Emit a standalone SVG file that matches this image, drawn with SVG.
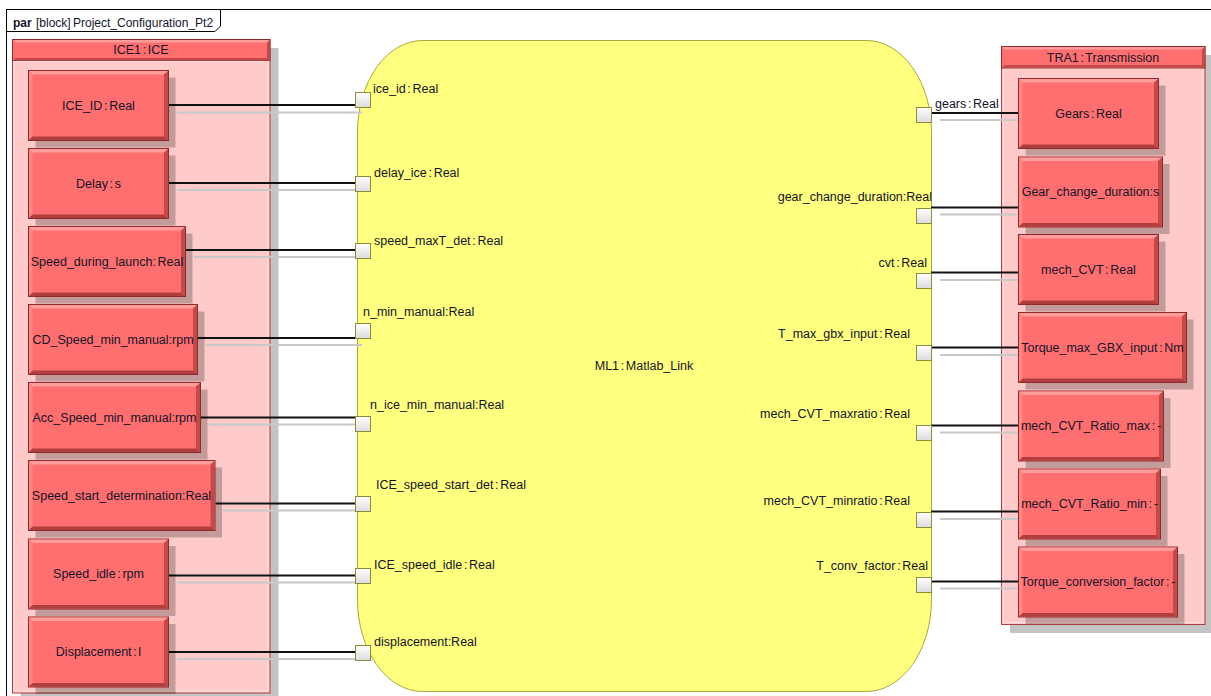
<svg xmlns="http://www.w3.org/2000/svg" width="1211" height="696" viewBox="0 0 1211 696">
<defs>
<linearGradient id="pg" x1="0" y1="0" x2="0" y2="1"><stop offset="0" stop-color="#FFFFFF"/><stop offset="1" stop-color="#DCDCDC"/></linearGradient>
<style>
text{font-family:"Liberation Sans",Arial,sans-serif;font-size:12.5px;fill:#14142a;word-spacing:-1.8px}
.c{text-anchor:middle}
.e{text-anchor:end}
.box{fill:#FF6F6F;stroke:#8E2A2A;stroke-width:1}
.hl{fill:#FF9C9C}
.hl2{fill:#FF8585}
.dk{fill:#C44A4A}
.dk2{fill:#B03E3E}
.sh{fill:#000;opacity:0.23}
.cont{fill:#FFCACA;stroke:#B23A3A;stroke-width:1}
.hdr{fill:#FF6F6F;stroke:#8E2A2A;stroke-width:1}
.port{fill:url(#pg);stroke:#8C8C38;stroke-width:1}
.wire{stroke:#111;stroke-width:2;fill:none}
.ghost{stroke:#C8C8C8;stroke-width:2;fill:none}
</style>
</defs>
<rect width="1211" height="696" fill="#fff"/>
<g id="frame">
<rect x="6.5" y="9.5" width="1215" height="700" fill="none" stroke="#000"/>
<path d="M6.5,31.5 H215 L220.5,26 V9.5" fill="none" stroke="#000"/>
<text x="13" y="27" style="font-size:12px;font-weight:bold">par</text>
<text x="36" y="27" style="font-size:12px">[block]</text>
<text x="73" y="27" style="font-size:12px">Project_Configuration_Pt2</text>
</g>
<g id="ML1">
<rect x="357.5" y="40.5" width="574" height="651" rx="65" ry="92" fill="#FFFF80" stroke="#A8A83C"/>
<text class="c" x="644" y="370">ML1 : Matlab_Link</text>
</g>
<g id="ICE1">
<rect class="sh" x="21" y="48" width="257.5" height="653.5"/>
<rect class="cont" x="12.5" y="39.5" width="257.5" height="653.5"/>
<rect x="14.5" y="61.5" width="253.5" height="629.5" fill="none" stroke="#FFE0E0" stroke-width="1"/>
<rect class="hdr" x="12.5" y="39.5" width="257.5" height="21"/>
<path d="M13,40 H269.5 L267,42.5 H15.5 Z" class="hl"/>
<path d="M269.5,40 V60.5 H13 L15.5,58 H267 V42.5 Z" class="dk"/>
<text class="c" x="141" y="54">ICE1 : ICE</text>
</g>
<g id="TRA1">
<rect class="sh" x="1010" y="55" width="203.5" height="578"/>
<rect class="cont" x="1001.5" y="46.5" width="203.5" height="578"/>
<rect x="1003.5" y="68.5" width="199.5" height="554" fill="none" stroke="#FFE0E0" stroke-width="1"/>
<rect class="hdr" x="1001.5" y="46.5" width="203.5" height="21.5"/>
<path d="M1002,47 H1204.5 L1202,49.5 H1004.5 Z" class="hl"/>
<path d="M1204.5,47 V67.5 H1002 L1004.5,65 H1202 V49.5 Z" class="dk"/>
<text class="c" x="1103" y="61.5">TRA1 : Transmission</text>
</g>
<g id="connectors">
<line class="ghost" x1="177" y1="112.5" x2="362" y2="112.5"/>
<line class="wire" x1="168.5" y1="105" x2="356" y2="105"/>
<line class="ghost" x1="177" y1="190" x2="362" y2="190"/>
<line class="wire" x1="168.5" y1="183" x2="356" y2="183"/>
<line class="ghost" x1="194" y1="257" x2="362" y2="257"/>
<line class="wire" x1="186" y1="250" x2="356" y2="250"/>
<line class="ghost" x1="206" y1="345" x2="362" y2="345"/>
<line class="wire" x1="198" y1="338" x2="356" y2="338"/>
<line class="ghost" x1="209" y1="424.5" x2="362" y2="424.5"/>
<line class="wire" x1="201" y1="417.5" x2="356" y2="417.5"/>
<line class="ghost" x1="223" y1="510.5" x2="362" y2="510.5"/>
<line class="wire" x1="215.5" y1="503.5" x2="356" y2="503.5"/>
<line class="ghost" x1="177" y1="582.5" x2="362" y2="582.5"/>
<line class="wire" x1="168.5" y1="575.5" x2="356" y2="575.5"/>
<line class="ghost" x1="177" y1="659" x2="362" y2="659"/>
<line class="wire" x1="168.5" y1="652" x2="356" y2="652"/>
<line class="ghost" x1="940" y1="120" x2="1018" y2="120"/>
<line class="wire" x1="931" y1="113" x2="1018.5" y2="113"/>
<line class="ghost" x1="940" y1="214.5" x2="1018" y2="214.5"/>
<line class="wire" x1="931" y1="207.5" x2="1018.5" y2="207.5"/>
<line class="ghost" x1="940" y1="280" x2="1018" y2="280"/>
<line class="wire" x1="931" y1="272.5" x2="1018.5" y2="272.5"/>
<line class="ghost" x1="940" y1="355" x2="1018" y2="355"/>
<line class="wire" x1="931" y1="347.5" x2="1018.5" y2="347.5"/>
<line class="ghost" x1="940" y1="432.5" x2="1018" y2="432.5"/>
<line class="wire" x1="931" y1="425.5" x2="1018.5" y2="425.5"/>
<line class="ghost" x1="940" y1="519" x2="1018" y2="519"/>
<line class="wire" x1="931" y1="511.5" x2="1018.5" y2="511.5"/>
<line class="ghost" x1="940" y1="588.5" x2="1018" y2="588.5"/>
<line class="wire" x1="931" y1="581.5" x2="1018.5" y2="581.5"/>
</g>
<g id="ports">
<rect class="port" x="355.5" y="92.5" width="15" height="15"/>
<rect class="port" x="355.5" y="176.5" width="15" height="15"/>
<rect class="port" x="355.5" y="243.5" width="15" height="15"/>
<rect class="port" x="355.5" y="323.5" width="15" height="15"/>
<rect class="port" x="355.5" y="416.5" width="15" height="15"/>
<rect class="port" x="355.5" y="496.5" width="15" height="15"/>
<rect class="port" x="355.5" y="568.5" width="15" height="15"/>
<rect class="port" x="355.5" y="645.5" width="15" height="15"/>
<rect class="port" x="916.5" y="107.5" width="15" height="15"/>
<rect class="port" x="916.5" y="208.5" width="15" height="15"/>
<rect class="port" x="916.5" y="273.5" width="15" height="15"/>
<rect class="port" x="916.5" y="345.5" width="15" height="15"/>
<rect class="port" x="916.5" y="425.5" width="15" height="15"/>
<rect class="port" x="916.5" y="512.5" width="15" height="15"/>
<rect class="port" x="916.5" y="577.5" width="15" height="15"/>
<text x="373" y="93">ice_id : Real</text>
<text x="374" y="177">delay_ice : Real</text>
<text x="374" y="245">speed_maxT_det : Real</text>
<text x="363" y="316">n_min_manual:Real</text>
<text x="370" y="409">n_ice_min_manual:Real</text>
<text x="376" y="489">ICE_speed_start_det : Real</text>
<text x="374" y="569">ICE_speed_idle : Real</text>
<text x="374" y="646">displacement:Real</text>
<text x="935" y="108">gears : Real</text>
<text class="e" x="932" y="200.5">gear_change_duration:Real</text>
<text class="e" x="927" y="266.5">cvt : Real</text>
<text class="e" x="910" y="338">T_max_gbx_input : Real</text>
<text class="e" x="910" y="418">mech_CVT_maxratio : Real</text>
<text class="e" x="910" y="504.5">mech_CVT_minratio : Real</text>
<text class="e" x="928" y="569.5">T_conv_factor : Real</text>
</g>
<g id="ICE_ID" transform="translate(28.5,70.5)">
<rect class="sh" x="7" y="7" width="140" height="70"/><rect class="box" width="140" height="70"/>
<polygon class="hl" points="0.5,0.5 139.5,0.5 135.5,4 4,4"/><polygon class="hl2" points="0.5,0.5 4,4 4,66 0.5,69.5"/>
<polygon class="dk" points="139.5,0.5 139.5,69.5 135.5,66 135.5,4"/><polygon class="dk2" points="0.5,69.5 139.5,69.5 135.5,66 4,66"/>
<text class="c" x="70" y="39">ICE_ID : Real</text>
</g>
<g id="Delay" transform="translate(28.5,148.5)">
<rect class="sh" x="7" y="7" width="140" height="70"/><rect class="box" width="140" height="70"/>
<polygon class="hl" points="0.5,0.5 139.5,0.5 135.5,4 4,4"/><polygon class="hl2" points="0.5,0.5 4,4 4,66 0.5,69.5"/>
<polygon class="dk" points="139.5,0.5 139.5,69.5 135.5,66 135.5,4"/><polygon class="dk2" points="0.5,69.5 139.5,69.5 135.5,66 4,66"/>
<text class="c" x="70" y="39">Delay : s</text>
</g>
<g id="Speed_during_launch" transform="translate(28.5,226.5)">
<rect class="sh" x="7" y="7" width="157" height="70"/><rect class="box" width="157" height="70"/>
<polygon class="hl" points="0.5,0.5 156.5,0.5 152.5,4 4,4"/><polygon class="hl2" points="0.5,0.5 4,4 4,66 0.5,69.5"/>
<polygon class="dk" points="156.5,0.5 156.5,69.5 152.5,66 152.5,4"/><polygon class="dk2" points="0.5,69.5 156.5,69.5 152.5,66 4,66"/>
<text class="c" x="78.5" y="39">Speed_during_launch: Real</text>
</g>
<g id="CD_Speed_min_manual" transform="translate(28.5,304.5)">
<rect class="sh" x="7" y="7" width="169" height="70"/><rect class="box" width="169" height="70"/>
<polygon class="hl" points="0.5,0.5 168.5,0.5 164.5,4 4,4"/><polygon class="hl2" points="0.5,0.5 4,4 4,66 0.5,69.5"/>
<polygon class="dk" points="168.5,0.5 168.5,69.5 164.5,66 164.5,4"/><polygon class="dk2" points="0.5,69.5 168.5,69.5 164.5,66 4,66"/>
<text class="c" x="84.5" y="39">CD_Speed_min_manual:rpm</text>
</g>
<g id="Acc_Speed_min_manual" transform="translate(28.5,382.5)">
<rect class="sh" x="7" y="7" width="172" height="70"/><rect class="box" width="172" height="70"/>
<polygon class="hl" points="0.5,0.5 171.5,0.5 167.5,4 4,4"/><polygon class="hl2" points="0.5,0.5 4,4 4,66 0.5,69.5"/>
<polygon class="dk" points="171.5,0.5 171.5,69.5 167.5,66 167.5,4"/><polygon class="dk2" points="0.5,69.5 171.5,69.5 167.5,66 4,66"/>
<text class="c" x="86" y="39">Acc_Speed_min_manual:rpm</text>
</g>
<g id="Speed_start_determination" transform="translate(28.5,460.5)">
<rect class="sh" x="7" y="7" width="186.5" height="70"/><rect class="box" width="186.5" height="70"/>
<polygon class="hl" points="0.5,0.5 186,0.5 182,4 4,4"/><polygon class="hl2" points="0.5,0.5 4,4 4,66 0.5,69.5"/>
<polygon class="dk" points="186,0.5 186,69.5 182,66 182,4"/><polygon class="dk2" points="0.5,69.5 186,69.5 182,66 4,66"/>
<text class="c" x="93" y="39">Speed_start_determination:Real</text>
</g>
<g id="Speed_idle" transform="translate(28.5,539)">
<rect class="sh" x="7" y="7" width="140" height="70"/><rect class="box" width="140" height="70"/>
<polygon class="hl" points="0.5,0.5 139.5,0.5 135.5,4 4,4"/><polygon class="hl2" points="0.5,0.5 4,4 4,66 0.5,69.5"/>
<polygon class="dk" points="139.5,0.5 139.5,69.5 135.5,66 135.5,4"/><polygon class="dk2" points="0.5,69.5 139.5,69.5 135.5,66 4,66"/>
<text class="c" x="70" y="39">Speed_idle : rpm</text>
</g>
<g id="Displacement" transform="translate(28.5,617)">
<rect class="sh" x="7" y="7" width="140" height="70"/><rect class="box" width="140" height="70"/>
<polygon class="hl" points="0.5,0.5 139.5,0.5 135.5,4 4,4"/><polygon class="hl2" points="0.5,0.5 4,4 4,66 0.5,69.5"/>
<polygon class="dk" points="139.5,0.5 139.5,69.5 135.5,66 135.5,4"/><polygon class="dk2" points="0.5,69.5 139.5,69.5 135.5,66 4,66"/>
<text class="c" x="70" y="39">Displacement : l</text>
</g>
<g id="Gears" transform="translate(1018.5,78.5)">
<rect class="sh" x="7" y="7" width="140" height="70"/><rect class="box" width="140" height="70"/>
<polygon class="hl" points="0.5,0.5 139.5,0.5 135.5,4 4,4"/><polygon class="hl2" points="0.5,0.5 4,4 4,66 0.5,69.5"/>
<polygon class="dk" points="139.5,0.5 139.5,69.5 135.5,66 135.5,4"/><polygon class="dk2" points="0.5,69.5 139.5,69.5 135.5,66 4,66"/>
<text class="c" x="70" y="39">Gears : Real</text>
</g>
<g id="Gear_change_duration" transform="translate(1018.5,157)">
<rect class="sh" x="7" y="7" width="144" height="70"/><rect class="box" width="144" height="70"/>
<polygon class="hl" points="0.5,0.5 143.5,0.5 139.5,4 4,4"/><polygon class="hl2" points="0.5,0.5 4,4 4,66 0.5,69.5"/>
<polygon class="dk" points="143.5,0.5 143.5,69.5 139.5,66 139.5,4"/><polygon class="dk2" points="0.5,69.5 143.5,69.5 139.5,66 4,66"/>
<text class="c" x="72" y="39">Gear_change_duration:s</text>
</g>
<g id="mech_CVT" transform="translate(1018.5,234.5)">
<rect class="sh" x="7" y="7" width="140" height="70"/><rect class="box" width="140" height="70"/>
<polygon class="hl" points="0.5,0.5 139.5,0.5 135.5,4 4,4"/><polygon class="hl2" points="0.5,0.5 4,4 4,66 0.5,69.5"/>
<polygon class="dk" points="139.5,0.5 139.5,69.5 135.5,66 135.5,4"/><polygon class="dk2" points="0.5,69.5 139.5,69.5 135.5,66 4,66"/>
<text class="c" x="70" y="39">mech_CVT : Real</text>
</g>
<g id="Torque_max_GBX_input" transform="translate(1018.5,312.5)">
<rect class="sh" x="7" y="7" width="168" height="70"/><rect class="box" width="168" height="70"/>
<polygon class="hl" points="0.5,0.5 167.5,0.5 163.5,4 4,4"/><polygon class="hl2" points="0.5,0.5 4,4 4,66 0.5,69.5"/>
<polygon class="dk" points="167.5,0.5 167.5,69.5 163.5,66 163.5,4"/><polygon class="dk2" points="0.5,69.5 167.5,69.5 163.5,66 4,66"/>
<text class="c" x="84" y="39">Torque_max_GBX_input : Nm</text>
</g>
<g id="mech_CVT_Ratio_max" transform="translate(1018.5,391)">
<rect class="sh" x="7" y="7" width="145" height="70"/><rect class="box" width="145" height="70"/>
<polygon class="hl" points="0.5,0.5 144.5,0.5 140.5,4 4,4"/><polygon class="hl2" points="0.5,0.5 4,4 4,66 0.5,69.5"/>
<polygon class="dk" points="144.5,0.5 144.5,69.5 140.5,66 140.5,4"/><polygon class="dk2" points="0.5,69.5 144.5,69.5 140.5,66 4,66"/>
<text class="c" x="72.5" y="39">mech_CVT_Ratio_max : -</text>
</g>
<g id="mech_CVT_Ratio_min" transform="translate(1018.5,469)">
<rect class="sh" x="7" y="7" width="142" height="70"/><rect class="box" width="142" height="70"/>
<polygon class="hl" points="0.5,0.5 141.5,0.5 137.5,4 4,4"/><polygon class="hl2" points="0.5,0.5 4,4 4,66 0.5,69.5"/>
<polygon class="dk" points="141.5,0.5 141.5,69.5 137.5,66 137.5,4"/><polygon class="dk2" points="0.5,69.5 141.5,69.5 137.5,66 4,66"/>
<text class="c" x="71" y="39">mech_CVT_Ratio_min : -</text>
</g>
<g id="Torque_conversion_factor" transform="translate(1018.5,547)">
<rect class="sh" x="7" y="7" width="159" height="70"/><rect class="box" width="159" height="70"/>
<polygon class="hl" points="0.5,0.5 158.5,0.5 154.5,4 4,4"/><polygon class="hl2" points="0.5,0.5 4,4 4,66 0.5,69.5"/>
<polygon class="dk" points="158.5,0.5 158.5,69.5 154.5,66 154.5,4"/><polygon class="dk2" points="0.5,69.5 158.5,69.5 154.5,66 4,66"/>
<text class="c" x="79.5" y="39">Torque_conversion_factor : -</text>
</g>
</svg>
